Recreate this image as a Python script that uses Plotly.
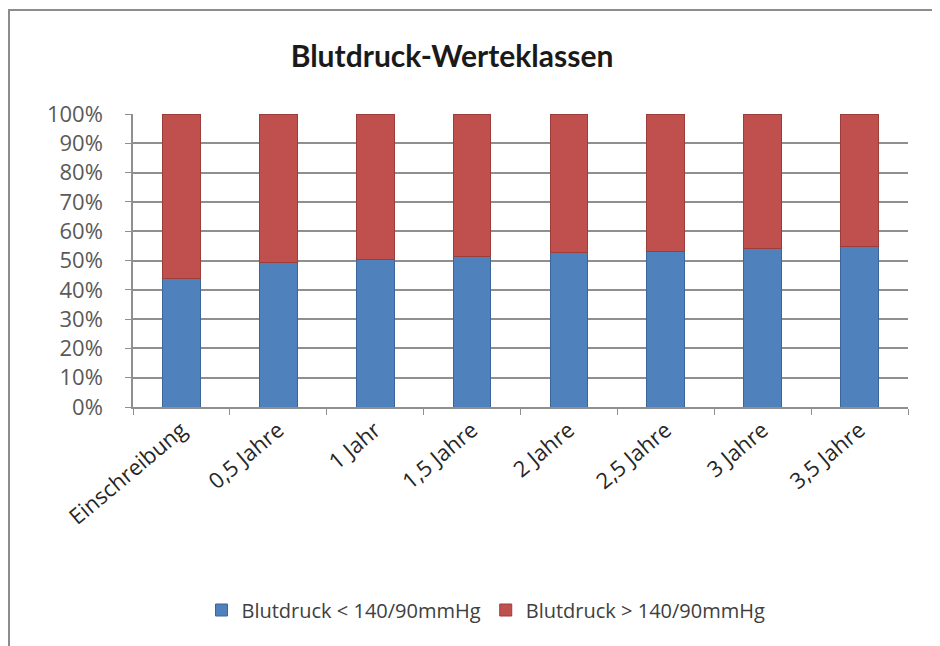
import plotly.graph_objects as go

categories = ["Einschreibung", "0,5 Jahre", "1 Jahr", "1,5 Jahre", "2 Jahre", "2,5 Jahre", "3 Jahre", "3,5 Jahre"]
below = [43.7, 49.2, 50.5, 51.3, 52.6, 53.1, 54.0, 54.8]
above = [100 - v for v in below]
series_names = ["Blutdruck < 140/90mmHg", "Blutdruck > 140/90mmHg"]
y_ticks = [0, 10, 20, 30, 40, 50, 60, 70, 80, 90, 100]
y_labels = [f"{t}%" for t in y_ticks]

W, H = 932, 638
L, R, T, B = 125, 32, 106, 239
PW, PH = W - L - R, H - T - B

FONT = "'Open Sans', Lato, sans-serif"
TFONT = "Lato, 'Open Sans', sans-serif"

def px(x):
    return (x - L) / PW

def py(y):
    return (H - B - y) / PH

fig = go.Figure()
fig.add_trace(go.Bar(x=categories, y=below, name=series_names[0],
                     marker=dict(color="#4f81bd", line=dict(color="#3a6699", width=1))))
fig.add_trace(go.Bar(x=categories, y=above, name=series_names[1],
                     marker=dict(color="#c0504d", line=dict(color="#9c3d3a", width=1))))

fig.update_layout(
    barmode="stack",
    bargap=0.61,
    width=W, height=H,
    margin=dict(l=L, r=R, t=T, b=B),
    paper_bgcolor="white", plot_bgcolor="white",
    font=dict(family=FONT, color="#333333"),
    title=dict(text="<b>Blutdruck-Werteklassen</b>", x=444 / W, xref="container", xanchor="center",
               y=1 - 48 / H, yref="container", yanchor="middle",
               font=dict(size=30, color="#1a1a1a", family=TFONT)),
    legend=dict(orientation="h", x=478 / W, xanchor="center", y=1 - 602 / H, yanchor="middle",
                xref="container", yref="container",
                font=dict(size=20, color="#404040", family=FONT), traceorder="normal",
                itemwidth=30),
    showlegend=True,
    shapes=[
        dict(type="line", xref="paper", yref="paper", x0=px(0), x1=px(W),
             y0=py(2), y1=py(2), line=dict(color="#8c8c8c", width=2)),
        dict(type="line", xref="paper", yref="paper", x0=px(1), x1=px(1),
             y0=py(2), y1=py(H), line=dict(color="#8c8c8c", width=2)),
    ],
)
fig.update_yaxes(range=[0, 100], tickvals=y_ticks, ticktext=y_labels,
                 showgrid=True, gridcolor="#8f8f8f", gridwidth=1.5,
                 showline=True, linecolor="#8f8f8f", linewidth=1.5,
                 ticks="outside", ticklen=6, tickcolor="#8f8f8f",
                 tickfont=dict(size=22, color="#595959"), ticklabelstandoff=18, zeroline=False)
fig.update_xaxes(tickangle=-40, showline=True, linecolor="#8f8f8f", linewidth=1.5,
                 ticks="outside", tickson="boundaries", ticklen=6, tickcolor="#8f8f8f",
                 tickfont=dict(size=22, color="#262626"), showgrid=False)

fig.write_html("out.html")
